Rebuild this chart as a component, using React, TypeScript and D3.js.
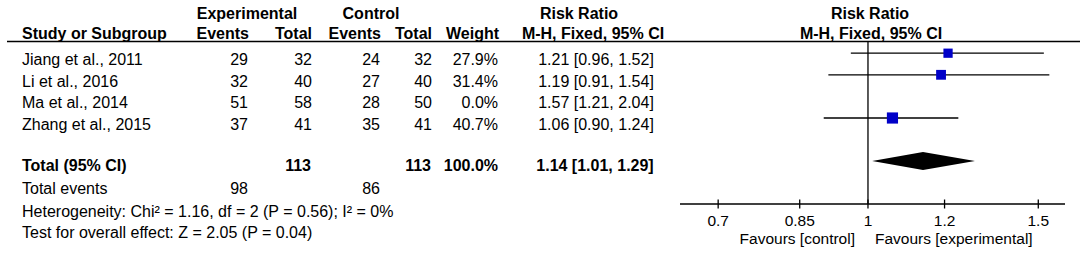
import React from "react";
import * as d3 from "d3";

const studies = ["Jiang et al., 2011", "Li et al., 2016", "Ma et al., 2014", "Zhang et al., 2015"];
const expEvents = [29, 32, 51, 37];
const expTotal = [32, 40, 58, 41];
const ctrlEvents = [24, 27, 28, 35];
const ctrlTotal = [32, 40, 50, 41];
const weights = [27.9, 31.4, 0.0, 40.7];
const rr = [1.21, 1.19, 1.57, 1.06];
const rrLo = [0.96, 0.91, 1.21, 0.9];
const rrHi = [1.52, 1.54, 2.04, 1.24];

const totalExp = 113;
const totalCtrl = 113;
const totalWeight = 100.0;
const totalRR = 1.14;
const totalLo = 1.01;
const totalHi = 1.29;
const totalEventsExp = 98;
const totalEventsCtrl = 86;
const heterogeneity = "Heterogeneity: Chi² = 1.16, df = 2 (P = 0.56); I² = 0%";
const overall = "Test for overall effect: Z = 2.05 (P = 0.04)";

const ticks = [0.7, 0.85, 1, 1.2, 1.5];
const axisDomain = [0.6392, 1.5985];

const W = 1084;
const H = 255;
const FONT = "'Liberation Sans', Arial, sans-serif";
const FS = 16;
const BLUE = "#0000C8";

export default function App() {
  const x = d3.scaleLog().domain(axisDomain).range([680, 1065]);
  const rowBase = d3.scaleLinear().domain([0, 1]).range([65, 86.6]);
  const axisY = 204;
  const totalBase = 170.7;
  const fmtRR = (v: number) => d3.format(".2f")(v);
  const ci = (m: number, l: number, h: number) => `${fmtRR(m)} [${fmtRR(l)}, ${fmtRR(h)}]`;
  const fmtW = (w: number) => d3.format(".1f")(w) + "%";
  const sizeScale = d3.scaleSqrt().domain([0, 100]).range([0, 17.5]);

  const txt = (props: any, s: string | number) => (
    <text fontFamily={FONT} fontSize={FS} fill="#000" {...props}>{s}</text>
  );

  return (
    <svg width={W} height={H} style={{ position: "absolute", left: 0, top: 0, background: "#fff" }}>
      <rect width={W} height={H} fill="#fff" />
      {/* headers */}
      {txt({ x: 247, y: 19, textAnchor: "middle", fontWeight: "bold" }, "Experimental")}
      {txt({ x: 371, y: 19, textAnchor: "middle", fontWeight: "bold" }, "Control")}
      {txt({ x: 579, y: 19, textAnchor: "middle", fontWeight: "bold" }, "Risk Ratio")}
      {txt({ x: 870, y: 19, textAnchor: "middle", fontWeight: "bold" }, "Risk Ratio")}
      {txt({ x: 22, y: 38.5, fontWeight: "bold" }, "Study or Subgroup")}
      {txt({ x: 249, y: 38.5, textAnchor: "end", fontWeight: "bold" }, "Events")}
      {txt({ x: 312, y: 38.5, textAnchor: "end", fontWeight: "bold" }, "Total")}
      {txt({ x: 381, y: 38.5, textAnchor: "end", fontWeight: "bold" }, "Events")}
      {txt({ x: 432, y: 38.5, textAnchor: "end", fontWeight: "bold" }, "Total")}
      {txt({ x: 499, y: 38.5, textAnchor: "end", fontWeight: "bold" }, "Weight")}
      {txt({ x: 593, y: 38.5, textAnchor: "middle", fontWeight: "bold" }, "M-H, Fixed, 95% CI")}
      {txt({ x: 871, y: 38.5, textAnchor: "middle", fontWeight: "bold" }, "M-H, Fixed, 95% CI")}
      <line x1={7} x2={1080} y1={41.5} y2={41.5} stroke="#000" strokeWidth={1.3} />

      {/* study rows */}
      {studies.map((s, i) => {
        const y = rowBase(i);
        return (
          <g key={s}>
            {txt({ x: 22, y }, s)}
            {txt({ x: 248, y, textAnchor: "end" }, expEvents[i])}
            {txt({ x: 312, y, textAnchor: "end" }, expTotal[i])}
            {txt({ x: 380, y, textAnchor: "end" }, ctrlEvents[i])}
            {txt({ x: 432, y, textAnchor: "end" }, ctrlTotal[i])}
            {txt({ x: 498, y, textAnchor: "end" }, fmtW(weights[i]))}
            {txt({ x: 596, y, textAnchor: "middle" }, ci(rr[i], rrLo[i], rrHi[i]))}
          </g>
        );
      })}

      {/* totals */}
      {txt({ x: 22, y: totalBase, fontWeight: "bold" }, "Total (95% CI)")}
      {txt({ x: 311, y: totalBase, textAnchor: "end", fontWeight: "bold" }, totalExp)}
      {txt({ x: 431, y: totalBase, textAnchor: "end", fontWeight: "bold" }, totalCtrl)}
      {txt({ x: 498, y: totalBase, textAnchor: "end", fontWeight: "bold" }, fmtW(totalWeight))}
      {txt({ x: 595, y: totalBase, textAnchor: "middle", fontWeight: "bold" }, ci(totalRR, totalLo, totalHi))}
      {txt({ x: 22, y: 194 }, "Total events")}
      {txt({ x: 248, y: 194, textAnchor: "end" }, totalEventsExp)}
      {txt({ x: 380, y: 194, textAnchor: "end" }, totalEventsCtrl)}
      {txt({ x: 22, y: 216.5 }, heterogeneity)}
      {txt({ x: 22, y: 238.3 }, overall)}

      {/* plot */}
      <line x1={x(1)} x2={x(1)} y1={42} y2={axisY} stroke="#000" strokeWidth={1.3} />
      {studies.map((s, i) => {
        if (weights[i] <= 0) return null;
        const y = rowBase(i) - 11.8;
        const lo = Math.max(rrLo[i], axisDomain[0]);
        const hi = Math.min(rrHi[i], axisDomain[1]);
        const sz = sizeScale(weights[i]);
        return (
          <g key={"p" + s}>
            <line x1={x(lo)} x2={x(hi)} y1={y} y2={y} stroke="#000" strokeWidth={1.3} />
            <rect x={x(rr[i]) - sz / 2} y={y - sz / 2} width={sz} height={sz} fill={BLUE} />
          </g>
        );
      })}
      <path
        d={`M${x(totalLo)},161 L${x(totalRR)},152 L${x(totalHi)},161 L${x(totalRR)},170 Z`}
        fill="#000"
      />
      <line x1={x(axisDomain[0])} x2={x(axisDomain[1])} y1={axisY} y2={axisY} stroke="#000" strokeWidth={1.3} />
      {ticks.map((t) => (
        <g key={t}>
          <line x1={x(t)} x2={x(t)} y1={axisY - 4.5} y2={axisY + 4.5} stroke="#000" strokeWidth={1.3} />
          {txt({ x: x(t), y: 226, textAnchor: "middle", fontSize: 15.5 }, String(t))}
        </g>
      ))}
      {txt({ x: 855, y: 243.5, textAnchor: "end", fontSize: 15.5 }, "Favours [control]")}
      {txt({ x: 875, y: 243.5, fontSize: 15.5 }, "Favours [experimental]")}
    </svg>
  );
}
